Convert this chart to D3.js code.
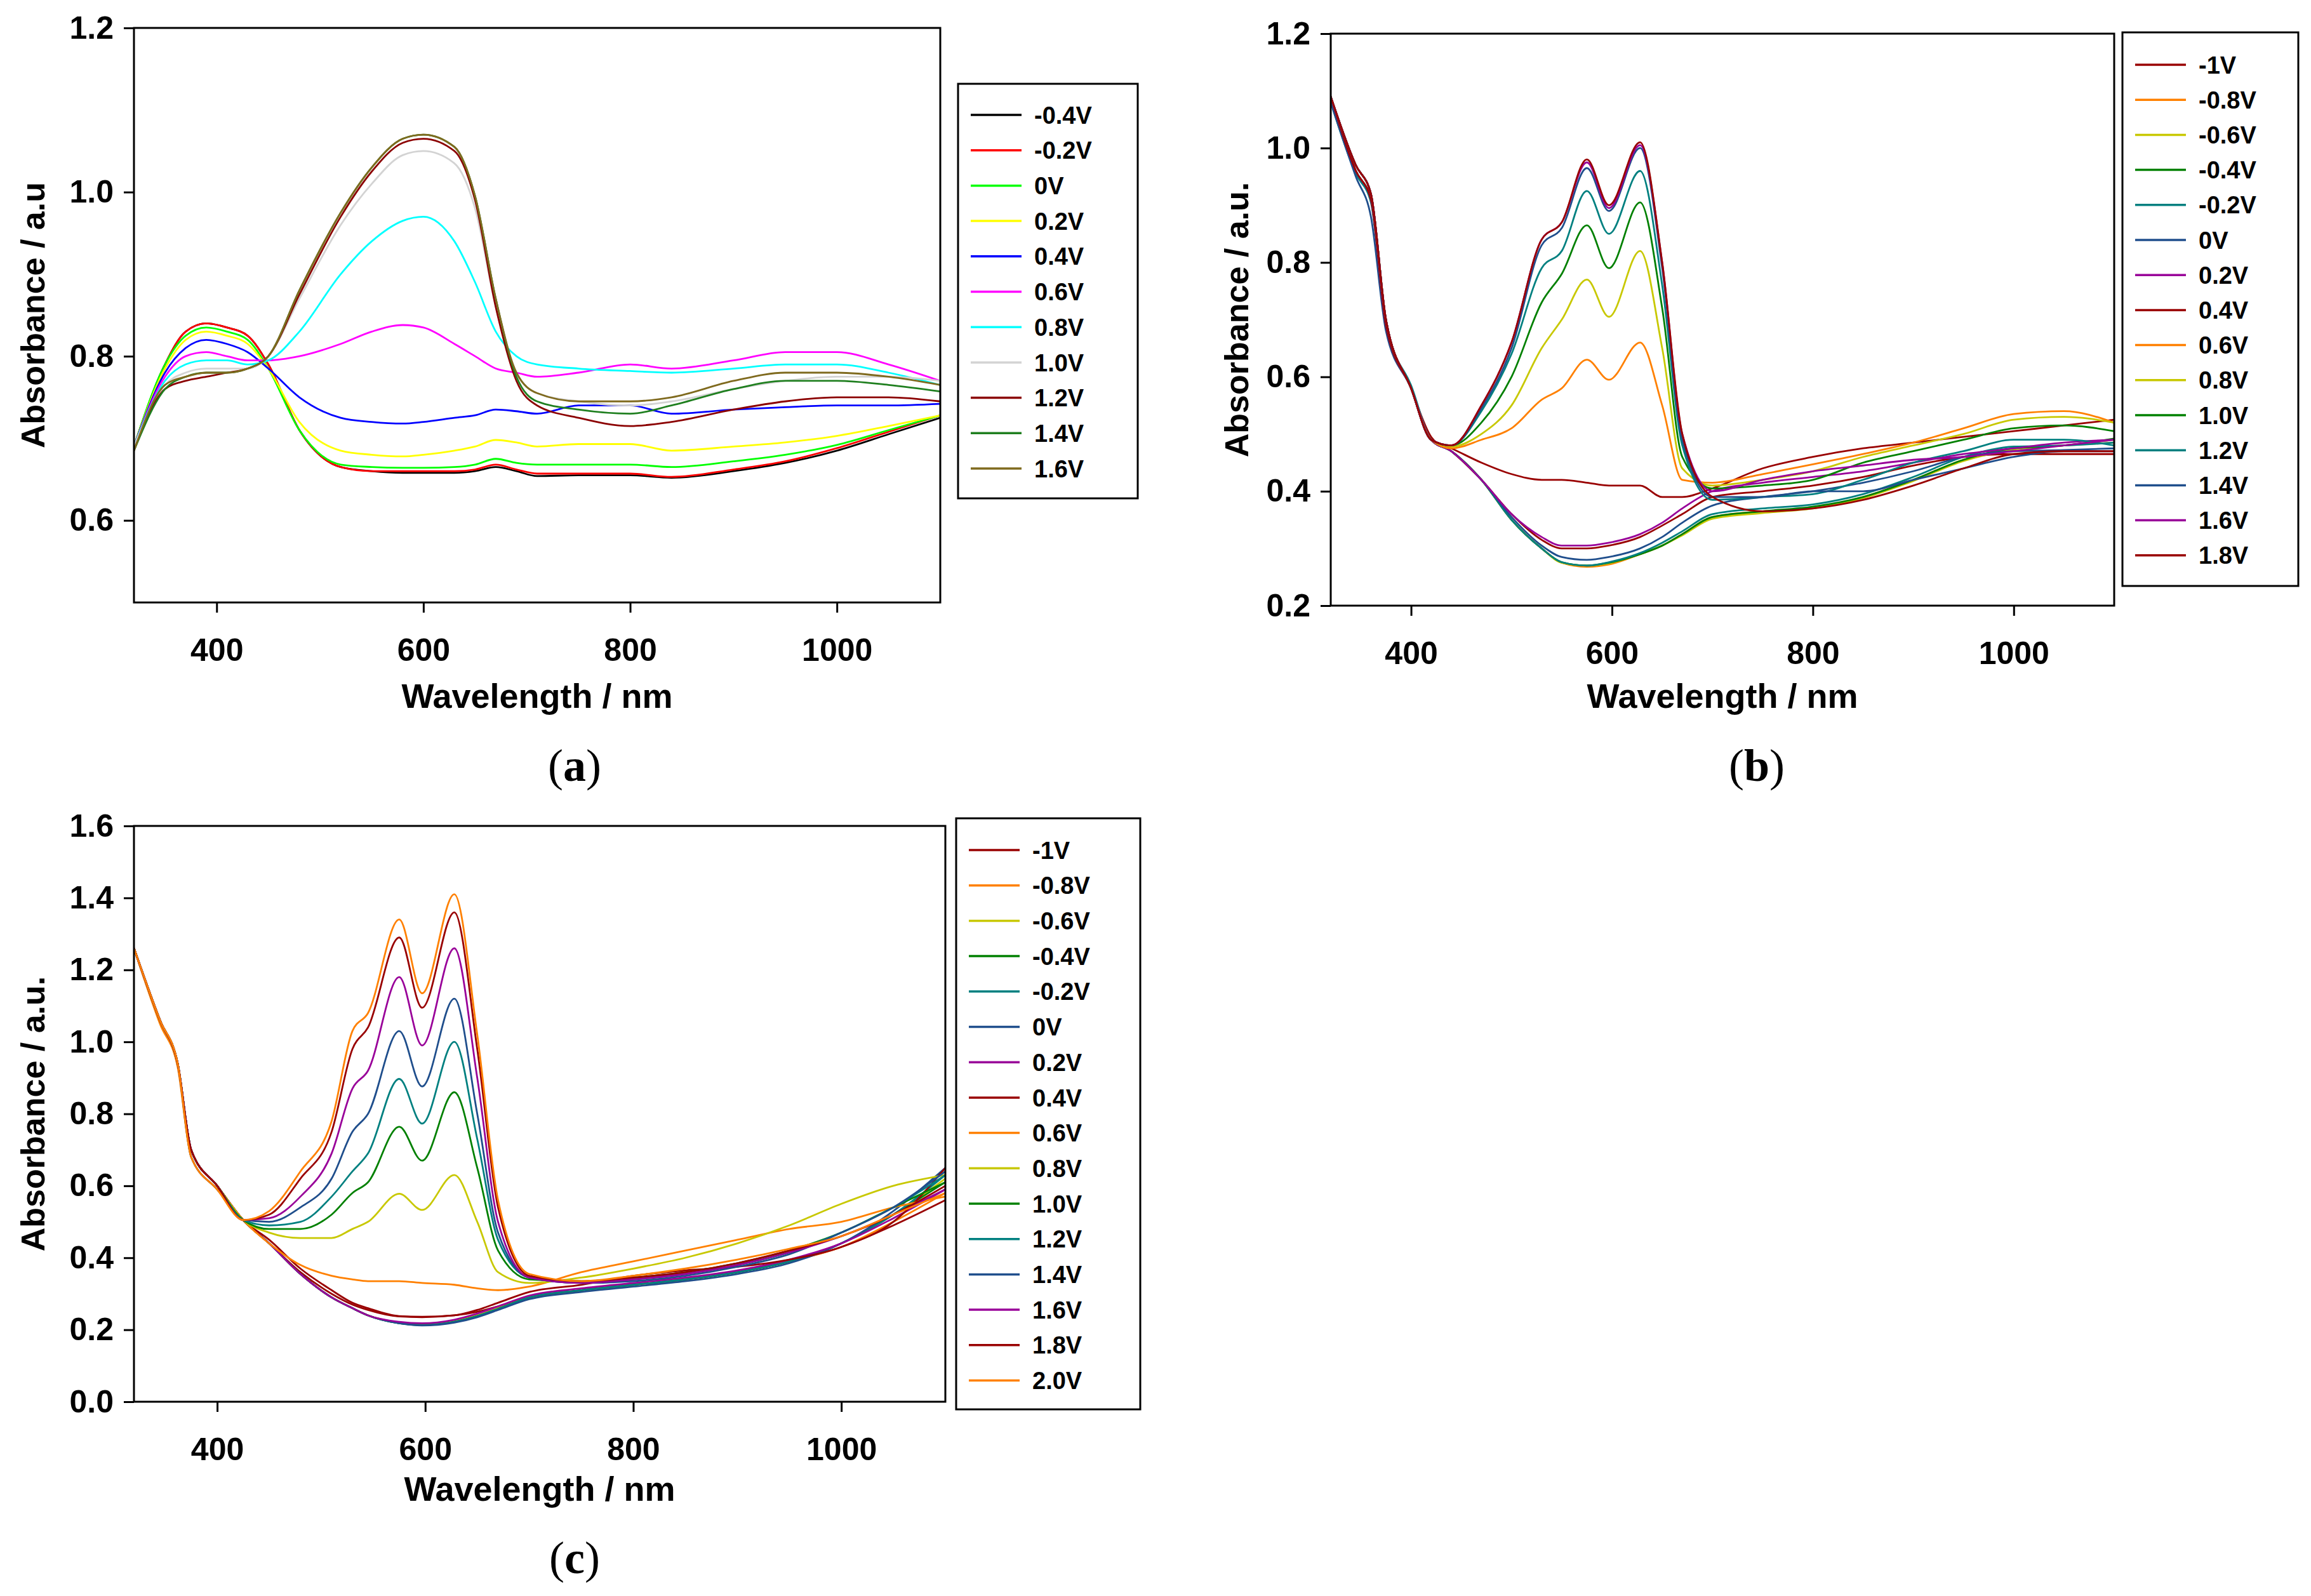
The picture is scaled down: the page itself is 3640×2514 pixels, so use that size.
<!DOCTYPE html>
<html><head><meta charset="utf-8">
<script src="https://cdn.jsdelivr.net/npm/d3@7"></script>
<style>body{margin:0;background:#fff}svg{display:block}</style></head>
<body><svg id="c" width="3640" height="2514"></svg>
<script>
// ---------- Panel (a) ----------
const wlA = [320,350,370,390,410,430,450,480,520,550,580,600,630,650,670,690,710,750,800,840,900,950,1000,1050,1100];
const labelsA = ["-0.4V","-0.2V","0V","0.2V","0.4V","0.6V","0.8V","1.0V","1.2V","1.4V","1.6V"];
const colorsA = ["#000000","#ff0000","#00ff00","#ffff00","#0000ff","#ff00ff","#00ffff","#d3d3d3","#8b0000","#1f7f1f","#7f6a1e"];
const valuesA = [
 [0.69,0.79,0.83,0.84,0.835,0.825,0.79,0.71,0.665,0.66,0.658,0.658,0.658,0.66,0.665,0.66,0.654,0.655,0.655,0.652,0.66,0.67,0.685,0.705,0.725],
 [0.69,0.79,0.83,0.84,0.835,0.825,0.79,0.71,0.665,0.66,0.66,0.66,0.66,0.662,0.668,0.662,0.657,0.657,0.657,0.653,0.662,0.672,0.688,0.708,0.728],
 [0.69,0.79,0.825,0.835,0.83,0.82,0.785,0.71,0.668,0.665,0.664,0.664,0.665,0.668,0.675,0.67,0.668,0.668,0.668,0.665,0.672,0.68,0.692,0.71,0.728],
 [0.69,0.785,0.82,0.83,0.825,0.815,0.785,0.72,0.685,0.68,0.678,0.68,0.685,0.69,0.698,0.695,0.69,0.693,0.693,0.685,0.69,0.695,0.703,0.715,0.728],
 [0.69,0.78,0.81,0.82,0.815,0.805,0.785,0.75,0.725,0.72,0.718,0.72,0.725,0.728,0.735,0.733,0.73,0.74,0.74,0.73,0.735,0.738,0.74,0.74,0.742],
 [0.69,0.775,0.80,0.805,0.80,0.795,0.795,0.80,0.815,0.83,0.838,0.835,0.815,0.80,0.785,0.78,0.775,0.78,0.79,0.785,0.795,0.805,0.805,0.79,0.77],
 [0.69,0.77,0.79,0.795,0.795,0.79,0.795,0.83,0.90,0.94,0.965,0.97,0.94,0.89,0.83,0.80,0.79,0.785,0.782,0.78,0.785,0.79,0.79,0.78,0.765],
 [0.69,0.765,0.78,0.785,0.785,0.785,0.80,0.87,0.96,1.01,1.045,1.05,1.035,0.98,0.86,0.78,0.755,0.745,0.74,0.745,0.76,0.77,0.775,0.775,0.77],
 [0.685,0.76,0.77,0.775,0.78,0.785,0.80,0.875,0.97,1.025,1.06,1.065,1.05,0.99,0.86,0.77,0.74,0.725,0.715,0.72,0.735,0.745,0.75,0.75,0.745],
 [0.685,0.76,0.775,0.78,0.78,0.785,0.80,0.88,0.975,1.03,1.065,1.07,1.055,0.995,0.87,0.775,0.745,0.735,0.73,0.74,0.76,0.77,0.77,0.765,0.757],
 [0.685,0.765,0.775,0.78,0.78,0.785,0.80,0.88,0.975,1.03,1.065,1.07,1.055,0.995,0.87,0.78,0.755,0.745,0.745,0.75,0.77,0.78,0.78,0.775,0.765]
];
const ticksA = [0.6,0.8,1.0,1.2];

// ---------- Panel (b) ----------
const wlB = [320,345,360,375,400,420,440,470,500,530,550,575,597,628,650,670,700,750,800,850,900,950,1000,1050,1100];
const labelsB = ["-1V","-0.8V","-0.6V","-0.4V","-0.2V","0V","0.2V","0.4V","0.6V","0.8V","1.0V","1.2V","1.4V","1.6V","1.8V"];
const colorsB = ["#990000","#ff8000","#c8c800","#008000","#008080","#1f4e8c","#990099","#990000","#ff8000","#c8c800","#008000","#008080","#1f4e8c","#990099","#990000"];
const valuesB = [
 [1.09,0.97,0.92,0.70,0.58,0.495,0.47,0.42,0.36,0.315,0.30,0.30,0.305,0.32,0.34,0.36,0.39,0.40,0.41,0.425,0.445,0.46,0.465,0.465,0.465],
 [1.09,0.96,0.91,0.69,0.58,0.49,0.47,0.42,0.35,0.30,0.275,0.268,0.272,0.29,0.305,0.325,0.355,0.365,0.372,0.39,0.42,0.455,0.475,0.48,0.485],
 [1.09,0.96,0.91,0.69,0.58,0.49,0.47,0.42,0.35,0.30,0.275,0.27,0.274,0.29,0.305,0.323,0.352,0.362,0.37,0.388,0.418,0.453,0.473,0.48,0.49],
 [1.09,0.96,0.91,0.69,0.58,0.49,0.47,0.42,0.35,0.30,0.276,0.27,0.275,0.29,0.305,0.325,0.355,0.365,0.373,0.39,0.42,0.455,0.475,0.48,0.492],
 [1.08,0.955,0.905,0.69,0.585,0.49,0.47,0.42,0.35,0.30,0.276,0.27,0.276,0.292,0.31,0.33,0.36,0.37,0.377,0.395,0.425,0.46,0.478,0.48,0.485],
 [1.08,0.95,0.88,0.68,0.58,0.49,0.47,0.42,0.355,0.305,0.285,0.28,0.285,0.30,0.32,0.345,0.375,0.39,0.40,0.415,0.435,0.46,0.47,0.472,0.475],
 [1.09,0.96,0.91,0.69,0.58,0.49,0.47,0.42,0.36,0.32,0.305,0.305,0.31,0.325,0.345,0.37,0.40,0.415,0.425,0.435,0.45,0.465,0.475,0.485,0.49],
 [1.09,0.96,0.91,0.69,0.58,0.49,0.475,0.45,0.43,0.42,0.42,0.415,0.41,0.41,0.39,0.39,0.405,0.44,0.46,0.475,0.485,0.495,0.505,0.515,0.525],
 [1.09,0.97,0.92,0.70,0.58,0.49,0.475,0.49,0.51,0.56,0.58,0.63,0.595,0.66,0.55,0.42,0.415,0.43,0.447,0.465,0.485,0.51,0.535,0.54,0.52],
 [1.09,0.97,0.92,0.70,0.58,0.49,0.478,0.50,0.55,0.65,0.70,0.77,0.705,0.82,0.65,0.44,0.41,0.42,0.435,0.46,0.48,0.50,0.525,0.53,0.52],
 [1.09,0.97,0.92,0.70,0.58,0.49,0.48,0.52,0.60,0.73,0.78,0.865,0.79,0.905,0.72,0.46,0.405,0.41,0.42,0.45,0.47,0.49,0.51,0.515,0.505],
 [1.09,0.97,0.92,0.70,0.58,0.49,0.48,0.54,0.64,0.79,0.82,0.925,0.85,0.96,0.76,0.48,0.385,0.39,0.395,0.42,0.45,0.47,0.49,0.49,0.48],
 [1.09,0.97,0.92,0.70,0.58,0.49,0.48,0.545,0.65,0.83,0.86,0.965,0.89,1.0,0.79,0.49,0.39,0.39,0.40,0.40,0.42,0.44,0.46,0.47,0.47],
 [1.09,0.97,0.92,0.70,0.58,0.49,0.48,0.55,0.66,0.84,0.87,0.975,0.895,1.005,0.80,0.50,0.40,0.42,0.435,0.445,0.455,0.46,0.47,0.48,0.49],
 [1.09,0.97,0.92,0.70,0.58,0.49,0.48,0.55,0.66,0.84,0.87,0.98,0.90,1.01,0.80,0.50,0.39,0.365,0.37,0.385,0.41,0.44,0.465,0.47,0.47]
];
const ticksB = [0.2,0.4,0.6,0.8,1.0,1.2];

// ---------- Panel (c) ----------
const wlC = [320,345,362,375,400,425,450,480,510,530,545,575,597,628,650,670,700,750,800,850,900,950,1000,1050,1100];
const labelsC = ["-1V","-0.8V","-0.6V","-0.4V","-0.2V","0V","0.2V","0.4V","0.6V","0.8V","1.0V","1.2V","1.4V","1.6V","1.8V","2.0V"];
const colorsC = ["#990000","#ff8000","#c8c800","#008000","#008080","#1f4e8c","#990099","#990000","#ff8000","#c8c800","#008000","#008080","#1f4e8c","#990099","#990000","#ff8000"];
const valuesC = [
 [1.26,1.06,0.94,0.70,0.60,0.505,0.44,0.36,0.30,0.27,0.255,0.237,0.235,0.24,0.25,0.265,0.29,0.31,0.325,0.34,0.36,0.39,0.43,0.49,0.56],
 [1.26,1.05,0.93,0.68,0.59,0.505,0.44,0.355,0.29,0.26,0.24,0.22,0.215,0.225,0.24,0.26,0.29,0.31,0.325,0.34,0.36,0.39,0.43,0.50,0.58],
 [1.26,1.06,0.94,0.70,0.60,0.505,0.44,0.355,0.29,0.26,0.24,0.22,0.215,0.225,0.24,0.26,0.29,0.31,0.325,0.34,0.36,0.39,0.44,0.52,0.62],
 [1.26,1.06,0.94,0.70,0.60,0.505,0.44,0.355,0.29,0.26,0.24,0.218,0.213,0.222,0.238,0.258,0.29,0.31,0.325,0.34,0.36,0.39,0.44,0.52,0.61],
 [1.26,1.06,0.94,0.70,0.60,0.505,0.44,0.355,0.29,0.26,0.24,0.218,0.213,0.222,0.238,0.258,0.29,0.31,0.325,0.34,0.36,0.39,0.44,0.52,0.63],
 [1.26,1.06,0.94,0.68,0.59,0.505,0.44,0.355,0.29,0.26,0.24,0.218,0.212,0.22,0.235,0.255,0.285,0.305,0.32,0.335,0.355,0.385,0.44,0.53,0.65],
 [1.26,1.06,0.94,0.70,0.60,0.505,0.44,0.355,0.29,0.26,0.24,0.222,0.218,0.228,0.245,0.265,0.295,0.315,0.33,0.345,0.365,0.395,0.44,0.51,0.59],
 [1.26,1.06,0.94,0.70,0.60,0.505,0.45,0.37,0.31,0.275,0.26,0.238,0.236,0.24,0.255,0.275,0.305,0.325,0.35,0.365,0.375,0.395,0.43,0.50,0.65],
 [1.26,1.06,0.94,0.70,0.60,0.505,0.44,0.38,0.35,0.34,0.335,0.335,0.33,0.325,0.315,0.31,0.32,0.36,0.39,0.42,0.45,0.48,0.50,0.54,0.57],
 [1.26,1.06,0.94,0.70,0.60,0.505,0.47,0.455,0.455,0.48,0.50,0.578,0.533,0.63,0.50,0.36,0.33,0.345,0.37,0.40,0.44,0.49,0.55,0.60,0.63],
 [1.26,1.06,0.94,0.70,0.60,0.505,0.48,0.48,0.52,0.58,0.61,0.764,0.67,0.86,0.65,0.42,0.34,0.335,0.345,0.36,0.385,0.42,0.47,0.54,0.61],
 [1.26,1.06,0.94,0.70,0.60,0.505,0.49,0.50,0.57,0.64,0.69,0.897,0.773,1.0,0.73,0.45,0.345,0.33,0.34,0.355,0.38,0.415,0.47,0.54,0.63],
 [1.26,1.06,0.94,0.70,0.60,0.505,0.50,0.54,0.62,0.75,0.80,1.03,0.876,1.12,0.80,0.47,0.345,0.33,0.335,0.35,0.375,0.41,0.47,0.54,0.64],
 [1.26,1.06,0.94,0.70,0.60,0.505,0.51,0.57,0.69,0.87,0.92,1.18,0.99,1.26,0.90,0.50,0.345,0.33,0.34,0.355,0.38,0.415,0.46,0.52,0.59],
 [1.26,1.06,0.94,0.70,0.60,0.505,0.52,0.62,0.75,0.98,1.04,1.29,1.095,1.36,0.98,0.54,0.35,0.335,0.345,0.36,0.385,0.42,0.46,0.52,0.60],
 [1.26,1.06,0.94,0.68,0.59,0.505,0.53,0.64,0.78,1.03,1.08,1.34,1.135,1.41,1.02,0.56,0.355,0.335,0.35,0.37,0.395,0.425,0.46,0.52,0.58]
];
const ticksC = [0.0,0.2,0.4,0.6,0.8,1.0,1.2,1.4,1.6];
const ticksX = [400,600,800,1000];

const panels = [
 {wl:wlA, vals:valuesA, labels:labelsA, colors:colorsA, yd:[0.5,1.2], yt:ticksA, ylab:"Absorbance / a.u", tag:"a",
  x0:211,x1:1481,y0:44,y1:949, lg:[1509,132,1792,785], lgStart:181, lgStep:55.7, ytitleX:52, xtitleY:1115, tagY:1230, tagX:905},
 {wl:wlB, vals:valuesB, labels:labelsB, colors:colorsB, yd:[0.2,1.2], yt:ticksB, ylab:"Absorbance / a.u.", tag:"b",
  x0:2096,x1:3330,y0:53,y1:954, lg:[3343,51,3620,923], lgStart:102, lgStep:55.2, ytitleX:1948, xtitleY:1115, tagY:1230, tagX:2767},
 {wl:wlC, vals:valuesC, labels:labelsC, colors:colorsC, yd:[0,1.6], yt:ticksC, ylab:"Absorbance / a.u.", tag:"c",
  x0:211,x1:1489,y0:1301,y1:2208, lg:[1506,1289,1796,2220], lgStart:1339, lgStep:55.7, ytitleX:52, xtitleY:2364, tagY:2478, tagX:905}
];

const svg = d3.select("#c");
const F = "'Liberation Sans', Arial, sans-serif";
panels.forEach(p => {
  const x = d3.scaleLinear().domain([320,1100]).range([p.x0,p.x1]);
  const y = d3.scaleLinear().domain(p.yd).range([p.y1,p.y0]);
  const g = svg.append("g");
  const clipId = "clip" + p.tag;
  g.append("clipPath").attr("id",clipId).append("rect").attr("x",p.x0).attr("y",p.y0).attr("width",p.x1-p.x0).attr("height",p.y1-p.y0);
  const line = d3.line().x((d,i)=>x(p.wl[i])).y(d=>y(d)).curve(d3.curveMonotoneX);
  g.append("g").attr("clip-path",`url(#${clipId})`).selectAll("path").data(p.vals).join("path")
    .attr("d",line).attr("fill","none").attr("stroke",(d,i)=>p.colors[i]).attr("stroke-width",2.8);
  g.append("rect").attr("x",p.x0).attr("y",p.y0).attr("width",p.x1-p.x0).attr("height",p.y1-p.y0)
    .attr("fill","none").attr("stroke","#000").attr("stroke-width",3);
  const ax = g.append("g").attr("transform",`translate(0,${p.y1})`).call(d3.axisBottom(x).tickValues(ticksX).tickSize(16).tickPadding(40).tickFormat(d3.format("d")));
  const ay = g.append("g").attr("transform",`translate(${p.x0},0)`).call(d3.axisLeft(y).tickValues(p.yt).tickSize(16).tickPadding(16).tickFormat(d3.format(".1f")));
  [ax,ay].forEach(a=>{a.select(".domain").remove();a.selectAll("line").attr("stroke","#000").attr("stroke-width",3);
    a.selectAll("text").attr("font-family",F).attr("font-weight","bold").attr("font-size",50).attr("fill","#000");});
  g.append("text").attr("x",(p.x0+p.x1)/2).attr("y",p.xtitleY).attr("text-anchor","middle")
    .attr("font-family",F).attr("font-weight","bold").attr("font-size",54).text("Wavelength / nm");
  g.append("text").attr("transform",`translate(${p.ytitleX},${(p.y0+p.y1)/2}) rotate(-90)`).attr("text-anchor","middle")
    .attr("dy","0.35em").attr("font-family",F).attr("font-weight","bold").attr("font-size",52).text(p.ylab);
  const t = g.append("text").attr("x",p.tagX).attr("y",p.tagY).attr("text-anchor","middle")
    .attr("font-family","'Liberation Serif', serif").attr("font-size",72);
  t.append("tspan").text("(");
  t.append("tspan").attr("font-weight","bold").text(p.tag);
  t.append("tspan").text(")");
  // legend
  g.append("rect").attr("x",p.lg[0]).attr("y",p.lg[1]).attr("width",p.lg[2]-p.lg[0]).attr("height",p.lg[3]-p.lg[1])
    .attr("fill","#fff").attr("stroke","#000").attr("stroke-width",3);
  p.labels.forEach((lab,i)=>{
    const yy = p.lgStart + i*p.lgStep;
    g.append("line").attr("x1",p.lg[0]+20).attr("x2",p.lg[0]+100).attr("y1",yy).attr("y2",yy)
      .attr("stroke",p.colors[i]).attr("stroke-width",3.5);
    g.append("text").attr("x",p.lg[0]+120).attr("y",yy).attr("dy","0.36em")
      .attr("font-family",F).attr("font-weight","bold").attr("font-size",38).text(lab);
  });
});
</script></body></html>
